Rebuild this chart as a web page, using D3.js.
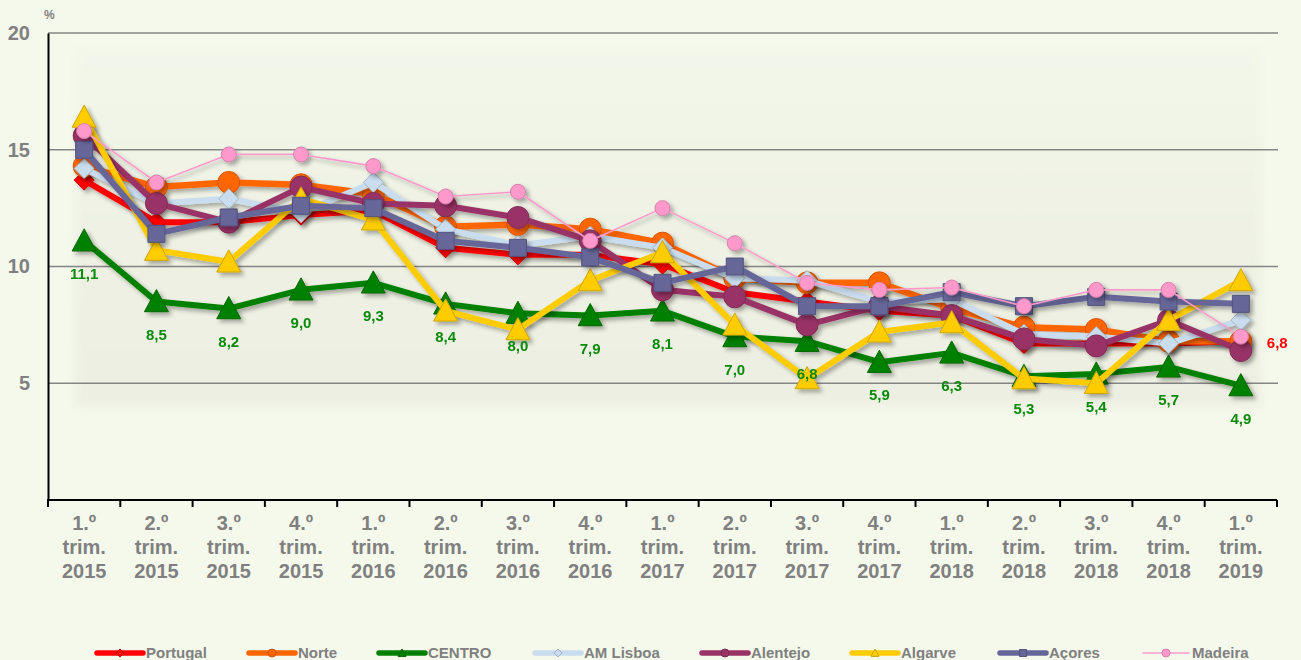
<!DOCTYPE html>
<html><head><meta charset="utf-8">
<script src="https://cdn.jsdelivr.net/npm/d3@7"></script>
<style>
html,body{margin:0;padding:0;background:#F5F9EC;}
svg{display:block;font-family:"Liberation Sans",Arial,sans-serif;}
</style></head><body>
<svg id="chart" width="1301" height="660"></svg>
<script>
// Quarterly unemployment rate (%) by region
const categories = ["1.º trim. 2015","2.º trim. 2015","3.º trim. 2015","4.º trim. 2015",
  "1.º trim. 2016","2.º trim. 2016","3.º trim. 2016","4.º trim. 2016",
  "1.º trim. 2017","2.º trim. 2017","3.º trim. 2017","4.º trim. 2017",
  "1.º trim. 2018","2.º trim. 2018","3.º trim. 2018","4.º trim. 2018","1.º trim. 2019"];
const portugal = [13.7,11.9,11.9,12.2,12.4,10.8,10.5,10.5,10.1,8.9,8.5,8.1,7.9,6.7,6.7,6.7,6.8];
const norte    = [14.3,13.4,13.6,13.5,13.1,11.7,11.8,11.6,11.0,9.5,9.3,9.3,8.2,7.4,7.3,6.8,6.8];
const centro   = [11.1,8.5,8.2,9.0,9.3,8.4,8.0,7.9,8.1,7.0,6.8,5.9,6.3,5.3,5.4,5.7,4.9];
const amLisboa = [14.2,12.7,12.9,12.3,13.6,11.6,10.9,11.3,10.8,9.5,9.4,8.5,8.6,7.1,7.0,6.7,7.7];
const alentejo = [15.6,12.7,11.9,13.4,12.7,12.6,12.1,11.1,9.0,8.7,7.5,8.3,7.9,6.9,6.6,7.7,6.4];
const algarve  = [16.4,10.7,10.2,12.9,12.0,8.1,7.3,9.4,10.6,7.5,5.2,7.2,7.6,5.2,5.0,7.7,9.4];
const acores   = [15.0,11.4,12.1,12.6,12.5,11.1,10.8,10.4,9.3,10.0,8.3,8.3,8.9,8.3,8.7,8.5,8.4];
const madeira  = [15.8,13.6,14.8,14.8,14.3,13.0,13.2,11.1,12.5,11.0,9.3,9.0,9.1,8.3,9.0,9.0,7.0];
const seriesNames = ["Portugal","Norte","CENTRO","AM Lisboa","Alentejo","Algarve","Açores","Madeira"];
const yTicks = [5,10,15,20];

const seriesStyle = [
  {values: portugal, color:"#FF0000", width:6,   marker:"diamond",  size:10},
  {values: norte,    color:"#FF6600", width:6.5, marker:"circle",   size:11},
  {values: centro,   color:"#008000", width:6,   marker:"triangle", size:12},
  {values: amLisboa, color:"#C9DDEF", width:6,   marker:"diamond",  size:10},
  {values: alentejo, color:"#993366", width:6,   marker:"circle",   size:11},
  {values: algarve,  color:"#FFCC00", width:6,   marker:"triangle", size:12},
  {values: acores,   color:"#666699", width:6,   marker:"square",   size:8.5},
  {values: madeira,  color:"#FF99CC", width:1.6, marker:"circle",   size:7.5}
];

const svg = d3.select("#chart");
const M = {left:48, right:1277, top:33, bottom:500};
const x = d3.scaleBand().domain(categories).range([M.left, M.right]);
const y = d3.scaleLinear().domain([0,20]).range([M.bottom, M.top]);
const cx = c => x(c) + x.bandwidth()/2;

const defs = svg.append("defs");
const sh = defs.append("filter").attr("id","shadow").attr("x","-10%").attr("y","-10%").attr("width","130%").attr("height","130%");
sh.append("feDropShadow").attr("dx",3).attr("dy",3).attr("stdDeviation",2)
  .attr("flood-color","#000").attr("flood-opacity",0.32);
const blur = defs.append("filter").attr("id","soft").attr("x","-5%").attr("y","-5%").attr("width","110%").attr("height","110%");
blur.append("feGaussianBlur").attr("stdDeviation",5);
const grad = defs.append("linearGradient").attr("id","panelFill").attr("x1",0).attr("x2",0).attr("y1",0).attr("y2",1);
grad.append("stop").attr("offset","0%").attr("stop-color","#F3F7EA");
grad.append("stop").attr("offset","55%").attr("stop-color","#EEF1E3");
grad.append("stop").attr("offset","100%").attr("stop-color","#ECEFE1");

// soft inner panel behind the plot
svg.append("rect").attr("x",74).attr("y",45).attr("width",1188).attr("height",362)
  .attr("fill","url(#panelFill)").attr("filter","url(#soft)");

// gridlines
svg.append("g").selectAll("line").data(yTicks).join("line")
  .attr("x1",M.left).attr("x2",M.right+1)
  .attr("y1",d=>y(d)).attr("y2",d=>y(d))
  .attr("stroke","#858585").attr("stroke-width",1.6);

// y axis
const yAxis = svg.append("g").attr("transform",`translate(${M.left},0)`)
  .call(d3.axisLeft(y).tickValues(yTicks).tickSize(0).tickPadding(18));
yAxis.select(".domain").attr("stroke","#000").attr("stroke-width",2);
yAxis.selectAll("text").attr("fill","#808080").attr("font-size",20).attr("font-weight","bold")
  .attr("font-family","Liberation Sans, Arial, sans-serif");

svg.append("text").attr("x",44).attr("y",19).text("%")
  .attr("fill","#808080").attr("font-size",12).attr("font-weight","bold");

// x axis with boundary ticks
const xAxisG = svg.append("g").attr("transform",`translate(0,${M.bottom})`);
xAxisG.append("line").attr("x1",M.left-1).attr("x2",M.right).attr("y1",0).attr("y2",0)
  .attr("stroke","#000").attr("stroke-width",2);
const bounds = categories.map(c => x(c)).concat([M.right]);
xAxisG.selectAll("line.tk").data(bounds).join("line").attr("class","tk")
  .attr("x1",d=>d).attr("x2",d=>d).attr("y1",0).attr("y2",7)
  .attr("stroke","#000").attr("stroke-width",2);
const xl = xAxisG.selectAll("text.cat").data(categories).join("text").attr("class","cat")
  .attr("x",d=>cx(d)).attr("text-anchor","middle")
  .attr("fill","#808080").attr("font-size",20).attr("font-weight","bold");
xl.each(function(d){
  const parts = d.split(" ");
  d3.select(this).selectAll("tspan").data(parts).join("tspan")
    .attr("x",cx(d)).attr("y",(p,i)=>30+i*24).text(p=>p);
});

// marker shapes
function markerPath(type, s){
  if(type==="diamond") return `M0,${-s}L${s},0L0,${s}L${-s},0Z`;
  if(type==="triangle") return `M0,${-s}L${s},${s*0.85}L${-s},${s*0.85}Z`;
  if(type==="square") return `M${-s},${-s}H${s}V${s}H${-s}Z`;
  return null;
}
function drawMarker(g, type, s, color){
  if(type==="circle"){
    return g.append("circle").attr("r",s).attr("fill",color)
      .attr("stroke",d3.color(color).darker(0.5)).attr("stroke-width",1);
  }
  return g.append("path").attr("d",markerPath(type,s)).attr("fill",color)
    .attr("stroke",d3.color(color).darker(0.6)).attr("stroke-width",1);
}

const line = d3.line().x((d,i)=>cx(categories[i])).y(d=>y(d));

seriesStyle.forEach(s=>{
  const g = svg.append("g").attr("filter","url(#shadow)");
  g.append("path").datum(s.values).attr("d",line).attr("fill","none")
    .attr("stroke",s.color).attr("stroke-width",s.width).attr("stroke-linejoin","round");
  s.values.forEach((v,i)=>{
    const mg = g.append("g").attr("transform",`translate(${cx(categories[i])},${y(v)})`);
    drawMarker(mg, s.marker, s.size, s.color);
  });
});

// value labels for CENTRO
svg.append("g").selectAll("text").data(centro).join("text")
  .attr("x",(d,i)=>cx(categories[i])).attr("y",d=>y(d)+38)
  .attr("text-anchor","middle").attr("fill","#0A8A0A")
  .attr("font-size",15).attr("font-weight","bold")
  .text(d=>d.toFixed(1).replace(".",","));

// latest value for Portugal
const last = portugal.length-1;
svg.append("text").attr("x",cx(categories[last])+26).attr("y",y(portugal[last])+7)
  .attr("fill","#FF0000").attr("font-size",15).attr("font-weight","bold")
  .text(portugal[last].toFixed(1).replace(".",","));

// legend
const legendX = [97,249,379,535,702,852,1000,1143];
const lg = svg.append("g").attr("transform","translate(0,653)");
seriesStyle.forEach((s,i)=>{
  const g = lg.append("g").attr("transform",`translate(${legendX[i]},0)`);
  g.append("line").attr("x1",0).attr("x2",46).attr("stroke",s.color)
    .attr("stroke-width", s.width>3 ? 5.5 : 1.5).attr("stroke-linecap","round");
  const mg = g.append("g").attr("transform","translate(23,0)");
  drawMarker(mg, s.marker, s.marker==="square"?3.5:4, s.color);
  g.append("text").attr("x",49).attr("y",5).text(seriesNames[i])
    .attr("fill","#808080").attr("font-size",15).attr("font-weight","bold");
});
</script>
</body></html>
